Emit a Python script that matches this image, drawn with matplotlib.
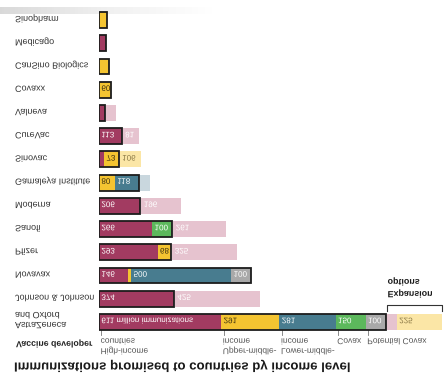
import numpy as np
import matplotlib.pyplot as plt
from matplotlib import patheffects
from matplotlib.transforms import Affine2D

plt.rcParams['font.family'] = ['Liberation Sans', 'DejaVu Sans']

# filas de abajo hacia arriba (la imagen de referencia esta volteada verticalmente)
developers = ['AstraZeneca\nand Oxford', 'Johnson & Johnson', 'Novavax', 'Pfizer', 'Sanofi',
              'Moderna', 'Gamaleya Institute', 'Sinovac', 'CureVac', 'Valneva', 'Covaxx',
              'CanSino Biologics', 'Medicago', 'Sinopharm']

# millones de inmunizaciones comprometidas
high_income = [611, 374, 146, 293, 266, 206, 0, 25, 113, 30, 0, 0, 35, 0]
upper_middle = [291, 0, 15, 68, 0, 0, 80, 73, 0, 0, 60, 50, 0, 40]
lower_middle = [281, 0, 500, 0, 0, 0, 118, 0, 0, 0, 0, 0, 0, 0]
covax = [150, 0, 0, 0, 100, 0, 0, 0, 0, 0, 0, 0, 0, 0]
potential_covax = [100, 0, 100, 0, 0, 0, 0, 0, 0, 0, 0, 0, 0, 0]

# opciones de expansion
exp_high = [50, 425, 0, 325, 261, 196, 0, 0, 81, 50, 0, 0, 0, 0]
exp_upper = [225, 0, 0, 0, 0, 0, 0, 106, 0, 0, 0, 0, 0, 0]
exp_lower = [0, 0, 0, 0, 0, 0, 50, 0, 0, 0, 0, 0, 0, 0]

header = [('High-income', 'countries'), ('Upper-middle-', 'income'),
          ('Lower-middle-', 'income'), ('', 'Covax'), ('', 'Potential Covax')]

committed = [high_income, upper_middle, lower_middle, covax, potential_covax]
colors = ['#a23b61', '#f4c431', '#487c8f', '#5cb85c', '#a9a9a9']
text_colors = ['white', '#3a2e10', 'white', 'white', 'white']
expansion = [exp_high, exp_upper, exp_lower]
exp_colors = ['#e6c3cf', '#fbe6a6', '#c9d7de']
exp_text = ['white', '#8a7845', '#6a7f88']


class Espejo(patheffects.AbstractPathEffect):
    # dibuja los glifos volteados de arriba a abajo, como en la referencia
    def draw_path(self, renderer, gc, tpath, affine, rgbFace=None):
        flip = Affine2D().scale(1, -1).translate(0, 72)
        renderer.draw_path(gc, tpath, flip + affine, rgbFace)


def texto(a, x, y, s, **kw):
    return a.text(x, y, s, path_effects=[Espejo()], va='center', **kw)


fig = plt.figure(figsize=(4.45, 3.8), dpi=100)

bg = fig.add_axes([0, 0, 1, 1])
grad = np.linspace(1, 0, 100)[None, :]
bg.imshow(grad, extent=(0, 215, 14, 7), cmap='Greys', vmin=0, vmax=4, aspect='auto')
bg.set_xlim(0, 445)
bg.set_ylim(380, 0)
bg.axis('off')

ax = fig.add_axes([99 / 445, (380 - 333.6) / 380, 346 / 445, 325.2 / 380])
ax.set_xlim(0, 1730)
ax.set_ylim(-0.5, 13.5)
ax.axis('off')

y = np.arange(len(developers))
h = 0.68

left = np.zeros(len(y))
for k, (vals, c, tc) in enumerate(zip(committed, colors, text_colors)):
    vals = np.array(vals, dtype=float)
    ax.barh(y, vals, left=left, height=h, color=c, linewidth=0)
    for yi, l, v in zip(y, left, vals):
        if v >= 55:
            s = f'{v:.0f} million immunizations' if (yi == 0 and k == 0) else f'{v:.0f}'
            texto(ax, l + 12, yi, s, color=tc, fontsize=5.8)
    left += vals
total = left.copy()

ax.barh(y, total, height=h, fill=False, edgecolor='#1c1c1c', linewidth=1.3, zorder=3)

left = total + 6
for vals, c, tc in zip(expansion, exp_colors, exp_text):
    vals = np.array(vals, dtype=float)
    ax.barh(y, vals, left=left, height=h, color=c, linewidth=0)
    for yi, l, v in zip(y, left, vals):
        if v >= 55:
            texto(ax, l + 12, yi, f'{v:.0f}', color=tc, fontsize=5.8)
    left += vals

# nombres de las desarrolladoras
for yi, name in zip(y, developers):
    lines = name.split('\n')
    if len(lines) == 2:
        texto(bg, 15, 326, lines[0], color='#333333', fontsize=6.5)
        texto(bg, 15, 316, lines[1], color='#333333', fontsize=6.5)
    else:
        texto(ax, -420, yi, name, color='#333333', fontsize=6.5, clip_on=False)

# encabezado de las categorias sobre la primera barra
starts = np.concatenate([[0], np.cumsum([c[0] for c in committed])[:-1]])
for s0, (l1, l2) in zip(starts, header):
    ax.plot([s0 + 12, s0 + 12], [-0.36, -0.55], color='#777777', lw=0.6, clip_on=False)
    texto(ax, s0 + 8, -0.9, l2, color='#555555', fontsize=6.1, clip_on=False)
    if l1:
        texto(ax, s0 + 8, -1.33, l1, color='#555555', fontsize=6.1, clip_on=False)

# corchete de opciones de expansion
e0 = total[0] + 6
e1 = e0 + sum(e[0] for e in expansion)
ax.plot([e0, e0, e1, e1], [0.47, 0.73, 0.73, 0.47], color='#333333', lw=0.8, clip_on=False)
texto(ax, e0 + 4, 1.16, 'Expansion', color='#1a1a1a', fontsize=6.4, fontweight='bold', clip_on=False)
texto(ax, e0 + 4, 1.68, 'options', color='#1a1a1a', fontsize=6.4, fontweight='bold', clip_on=False)

texto(bg, 16, 345, 'Vaccine developer', color='#222222', fontsize=6.3, fontweight='bold')
texto(bg, 14, 369, 'Immunizations promised to countries by income level',
      color='#1a1a1a', fontsize=9.5, fontweight='bold')

fig.savefig('out.png', dpi=100)
